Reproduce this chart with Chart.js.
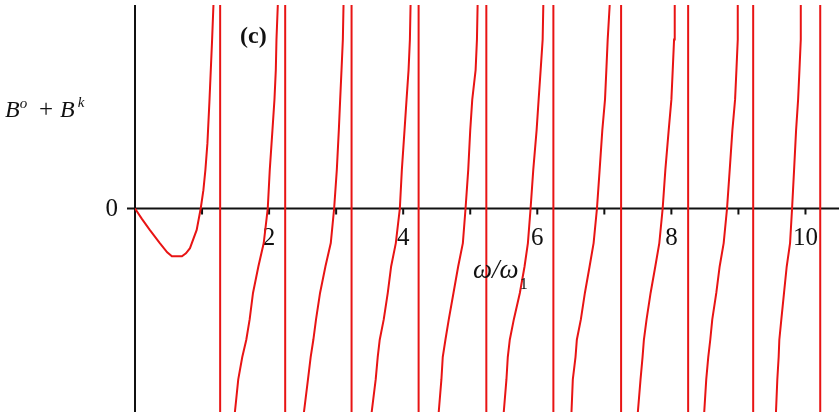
<!DOCTYPE html>
<html lang="en">
<head>
<meta charset="UTF-8">
<title>B^o + B^k (c)</title>
<script src="https://cdn.jsdelivr.net/npm/chart.js@4.4.1/dist/chart.umd.min.js"></script>
<style>
    html, body { margin: 0; padding: 0; background: #ffffff; }
    #contenedor { width: 839px; height: 418px; }
</style>
</head>
<body>
<div id="contenedor"><canvas id="grafico" width="839" height="418"></canvas></div>
<script>
// Rango de los ejes
const xMin = 0;
const xMax = 10.5;
const yMin = -20;
const yMax = 20;

// Primera rama, desde el origen
const rama0X = [0, 0.10, 0.22, 0.37, 0.48, 0.55, 0.70, 0.76, 0.82, 0.92, 0.98, 1.02, 1.05, 1.08, 1.11, 1.15, 1.17];
const rama0Y = [0, -1.0, -2.1, -3.4, -4.3, -4.7, -4.7, -4.4, -3.9, -2.1, 0, 1.8, 3.8, 6.4, 10.5, 16.6, 20];

// Niveles de y comunes para las demás ramas
const nivelesY = [-20, -16.8, -14.6, -12.9, -10.9, -8.3, -5.7, -3.4, 0, 3.8, 7.7, 10.7, 13.6, 16.6, 20];
const rama1X = [1.49, 1.54, 1.60, 1.66, 1.71, 1.76, 1.84, 1.92, 1.98, 2.01, 2.05, 2.08, 2.10, 2.11, 2.13];
const rama2X = [2.52, 2.58, 2.62, 2.66, 2.70, 2.76, 2.84, 2.92, 2.97, 3.01, 3.04, 3.06, 3.08, 3.10, 3.11];
const rama3X = [3.53, 3.59, 3.62, 3.65, 3.71, 3.77, 3.82, 3.89, 3.95, 3.98, 4.02, 4.05, 4.08, 4.10, 4.11];
const rama4X = [4.53, 4.57, 4.59, 4.63, 4.68, 4.75, 4.82, 4.89, 4.93, 4.97, 5.00, 5.03, 5.08, 5.10, 5.11];
const rama5X = [5.50, 5.54, 5.56, 5.59, 5.65, 5.74, 5.81, 5.86, 5.90, 5.94, 5.99, 6.02, 6.05, 6.08, 6.09];
const rama6X = [6.51, 6.53, 6.57, 6.59, 6.65, 6.71, 6.78, 6.84, 6.89, 6.93, 6.97, 7.01, 7.03, 7.05, 7.08];
const rama7X = [7.50, 7.54, 7.57, 7.59, 7.63, 7.69, 7.76, 7.82, 7.87, 7.91, 7.96, 8.00, 8.02, 8.04, 8.05];
const rama8X = [8.49, 8.52, 8.55, 8.58, 8.61, 8.67, 8.72, 8.78, 8.83, 8.87, 8.91, 8.95, 8.97, 8.99, 8.99];
const rama9X = [9.56, 9.58, 9.60, 9.61, 9.64, 9.68, 9.72, 9.77, 9.80, 9.83, 9.86, 9.89, 9.91, 9.93, 9.93];

// Asíntotas verticales (polos)
const asintotasX = [1.27, 2.24, 3.23, 4.23, 5.24, 6.24, 7.25, 8.25, 9.22, 10.22];

// Marcas del eje x
const ticksX = [1, 2, 3, 4, 5, 6, 7, 8, 9, 10];
const etiquetasX = ['', '2', '', '4', '', '6', '', '8', '', '10'];

const rojo = 'rgb(232, 20, 20)';
const fuente = "'Liberation Serif', 'Times New Roman', serif";

document.addEventListener('DOMContentLoaded', function() {
    const ctx = document.getElementById('grafico');

    const datasets = [];

    function agregarLinea(puntos) {
        datasets.push({
            data: puntos,
            showLine: true,
            borderColor: rojo,
            borderWidth: 2,
            pointRadius: 0,
            tension: 0,
            fill: false
        });
    }

    agregarLinea(rama0X.map((x, i) => ({ x: x, y: rama0Y[i] })));

    [rama1X, rama2X, rama3X, rama4X, rama5X, rama6X, rama7X, rama8X, rama9X].forEach(rama => {
        agregarLinea(rama.map((x, i) => ({ x: x, y: nivelesY[i] })));
    });

    asintotasX.forEach(a => {
        agregarLinea([{ x: a, y: yMin }, { x: a, y: yMax }]);
    });

    // Ejes, marcas y textos
    const ejesPlugin = {
        id: 'ejes',
        beforeDraw(chart) {
            const c = chart.ctx;
            c.save();
            c.fillStyle = '#ffffff';
            c.fillRect(0, 0, chart.width, chart.height);
            c.restore();
        },
        beforeDatasetsDraw(chart) {
            const c = chart.ctx;
            const { x, y } = chart.scales;
            const area = chart.chartArea;
            const x0 = x.getPixelForValue(0);
            const y0 = y.getPixelForValue(0);

            c.save();
            c.strokeStyle = '#111111';
            c.lineWidth = 2;
            c.beginPath();
            c.moveTo(x0 - 8, y0);
            c.lineTo(area.right, y0);
            c.moveTo(x0, area.top);
            c.lineTo(x0, area.bottom);
            ticksX.forEach(v => {
                const px = x.getPixelForValue(v);
                c.moveTo(px, y0);
                c.lineTo(px, y0 + 6);
            });
            c.stroke();

            c.fillStyle = '#111111';
            c.font = '25px ' + fuente;
            c.textAlign = 'center';
            c.textBaseline = 'alphabetic';
            ticksX.forEach((v, i) => {
                if (etiquetasX[i]) {
                    c.fillText(etiquetasX[i], x.getPixelForValue(v), y0 + 36);
                }
            });
            c.textAlign = 'right';
            c.textBaseline = 'middle';
            c.fillText('0', x0 - 17, y0 + 1);
            c.restore();
        },
        afterDraw(chart) {
            const c = chart.ctx;
            c.save();
            c.fillStyle = '#111111';
            c.textBaseline = 'alphabetic';
            c.textAlign = 'left';

            // (c)
            c.font = 'bold 24px ' + fuente;
            c.fillText('(c)', 240, 43);

            // B^o + B^k
            c.font = 'italic 24px ' + fuente;
            c.fillText('B', 5, 117);
            const anchoB = c.measureText('B').width;
            c.font = 'italic 15px ' + fuente;
            c.fillText('o', 5 + anchoB, 108);
            c.font = '25px ' + fuente;
            c.fillText('+', 39, 117);
            c.font = 'italic 24px ' + fuente;
            c.fillText('B', 60, 117);
            c.font = 'italic 15px ' + fuente;
            c.fillText('k', 60 + anchoB + 3, 107);

            // ω/ω1
            c.font = 'italic 27px ' + fuente;
            c.fillText('ω/ω', 473, 278);
            const anchoW = c.measureText('ω/ω').width;
            c.font = '16px ' + fuente;
            c.fillText('1', 473 + anchoW + 1, 289);
            c.restore();
        }
    };

    new Chart(ctx, {
        type: 'scatter',
        data: { datasets: datasets },
        options: {
            responsive: false,
            animation: false,
            layout: {
                padding: { left: 135, top: 5, right: 0, bottom: 6 }
            },
            plugins: {
                legend: { display: false },
                tooltip: { enabled: false }
            },
            scales: {
                x: { type: 'linear', min: xMin, max: xMax, display: false },
                y: { type: 'linear', min: yMin, max: yMax, display: false }
            }
        },
        plugins: [ejesPlugin]
    });
});
</script>
</body>
</html>
